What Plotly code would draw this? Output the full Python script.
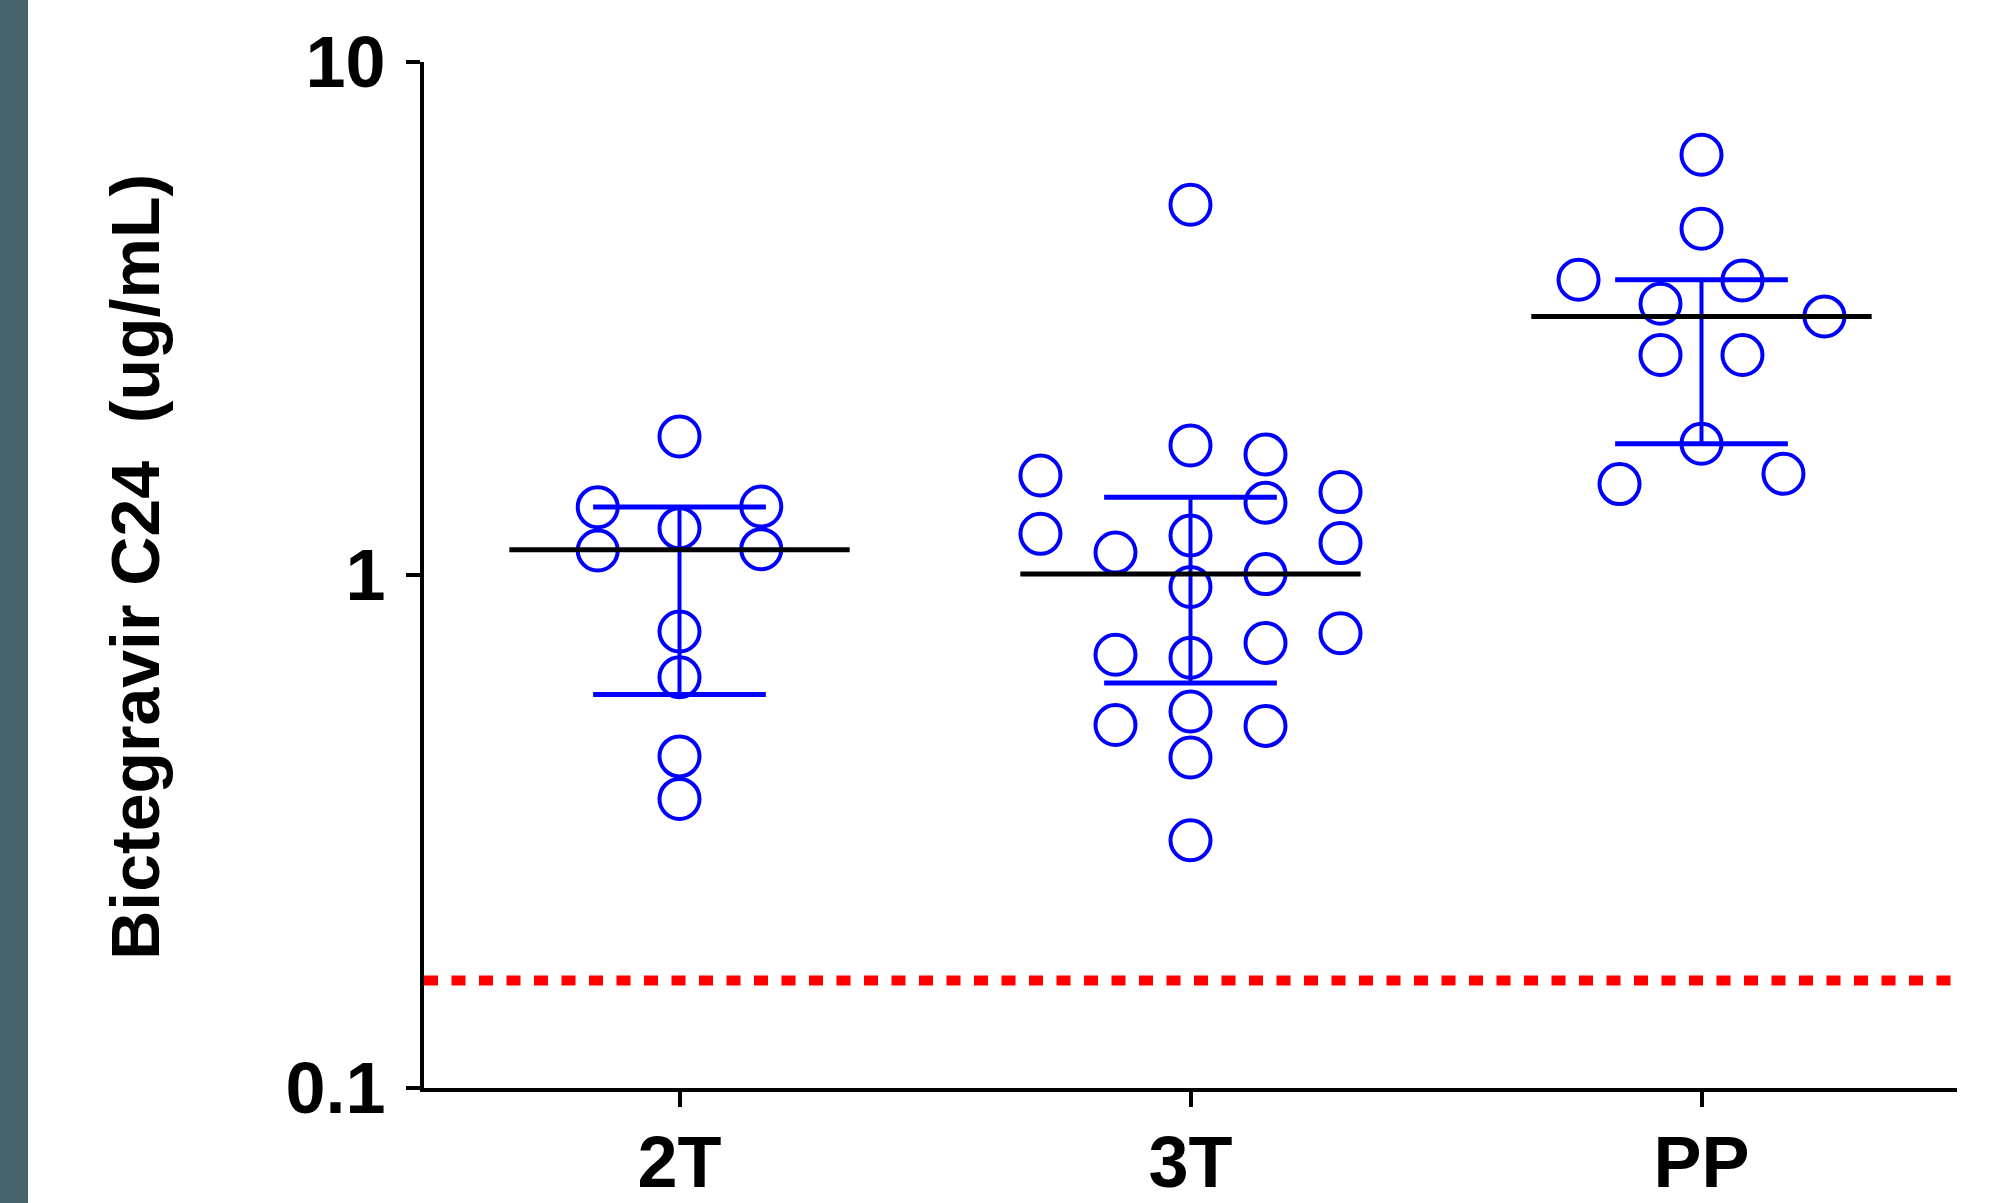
import numpy as np
import plotly.graph_objects as go

# Bictegravir trough concentrations (ug/mL) by pregnancy period
groups = ["2T", "3T", "PP"]

c24_2t = [1.862, 1.356, 1.360, 1.234, 1.116, 1.123, 0.776, 0.632, 0.443, 0.366]
c24_3t = [5.270, 1.789, 1.718, 1.563, 1.451, 1.383, 1.203, 1.194, 1.154, 1.106,
          1.004, 0.948, 0.770, 0.737, 0.699, 0.690, 0.542, 0.510, 0.508, 0.441, 0.304]
c24_pp = [6.596, 4.732, 3.764, 3.752, 3.379, 3.192, 2.684, 2.684, 1.803, 1.575, 1.504]

# horizontal column slot of each point within its group (scatter-dot layout)
slots_2t = [0, -1, 1, 0, -1, 1, 0, 0, 0, 0]
slots_3t = [0, 0, 1, -2, 2, 1, -2, 0, 2, -1, 1, 0, 2, 1, -1, 0, 0, -1, 1, 0, 0]
slots_pp = [0, 0, -3, 1, -1, 3, -1, 1, 0, 2, -2]

# protein-adjusted IC95 reference level
ic95 = 0.162

values = [c24_2t, c24_3t, c24_pp]
slots = [slots_2t, slots_3t, slots_pp]
slot_step = [0.160, 0.1468, 0.0802]

BLUE = "#0000FF"
FONT = "Liberation Sans, Arial, sans-serif"

fig = go.Figure()

# individual observations
for i, (vals, sl, step) in enumerate(zip(values, slots, slot_step)):
    fig.add_trace(go.Scatter(
        x=[i + s * step for s in sl], y=vals, mode="markers",
        marker=dict(symbol="circle-open", size=40, color=BLUE,
                    line=dict(width=4, color=BLUE)),
        showlegend=False, hoverinfo="skip"))

# median with interquartile range
med_half, cap_half = 0.333, 0.169
for i, vals in enumerate(values):
    v = np.asarray(vals)
    med = float(np.median(v))
    q1, q3 = (float(q) for q in np.percentile(v, [25, 75], method="weibull"))
    fig.add_trace(go.Scatter(
        x=[i, i], y=[q1, q3], mode="lines",
        line=dict(color=BLUE, width=4), showlegend=False, hoverinfo="skip"))
    for q in (q1, q3):
        fig.add_trace(go.Scatter(
            x=[i - cap_half, i + cap_half], y=[q, q], mode="lines",
            line=dict(color=BLUE, width=5), showlegend=False, hoverinfo="skip"))
    fig.add_trace(go.Scatter(
        x=[i - med_half, i + med_half], y=[med, med], mode="lines",
        line=dict(color="black", width=5), showlegend=False, hoverinfo="skip"))

# IC95 threshold
fig.add_trace(go.Scatter(
    x=[-0.5, 2.5], y=[ic95, ic95], mode="lines",
    line=dict(color="#FF0000", width=10, dash="14px,13.5px"),
    showlegend=False, hoverinfo="skip", cliponaxis=False))

# dark band along the left edge of the slide
fig.add_shape(type="rect", xref="paper", yref="paper",
              x0=-0.2766, x1=-0.2583, y0=-0.2, y1=1.1,
              fillcolor="#45646B", line=dict(width=0), layer="below")

fig.add_annotation(
    text="Bictegravir C24 \u00a0(ug/mL)", textangle=-90,
    xref="paper", yref="paper", x=-0.1885, y=0.508,
    xanchor="center", yanchor="middle", showarrow=False,
    font=dict(family=FONT, size=68, color="black", weight="bold"))

fig.update_xaxes(
    range=[-0.5, 2.5], tickvals=[0, 1, 2], ticktext=groups,
    showline=True, linecolor="black", linewidth=4,
    ticks="outside", ticklen=15, tickwidth=4, tickcolor="black",
    showgrid=False, zeroline=False, automargin=False, ticklabelstandoff=-6,
    tickfont=dict(family=FONT, size=72, color="black", weight="bold"))

fig.update_yaxes(
    type="log", range=[-1, 1], tickvals=[0.1, 1, 10], ticktext=["0.1", "1", "10"],
    showline=True, linecolor="black", linewidth=4,
    ticks="outside", ticklen=14, tickwidth=4, tickcolor="black",
    showgrid=False, zeroline=False, automargin=False, ticklabelstandoff=6,
    tickfont=dict(family=FONT, size=72, color="black", weight="bold"))

fig.update_layout(
    width=1993, height=1203,
    margin=dict(l=424, r=36, t=62, b=115),
    paper_bgcolor="white", plot_bgcolor="white",
    showlegend=False)

fig.write_html("out.html", config={"displayModeBar": False})
